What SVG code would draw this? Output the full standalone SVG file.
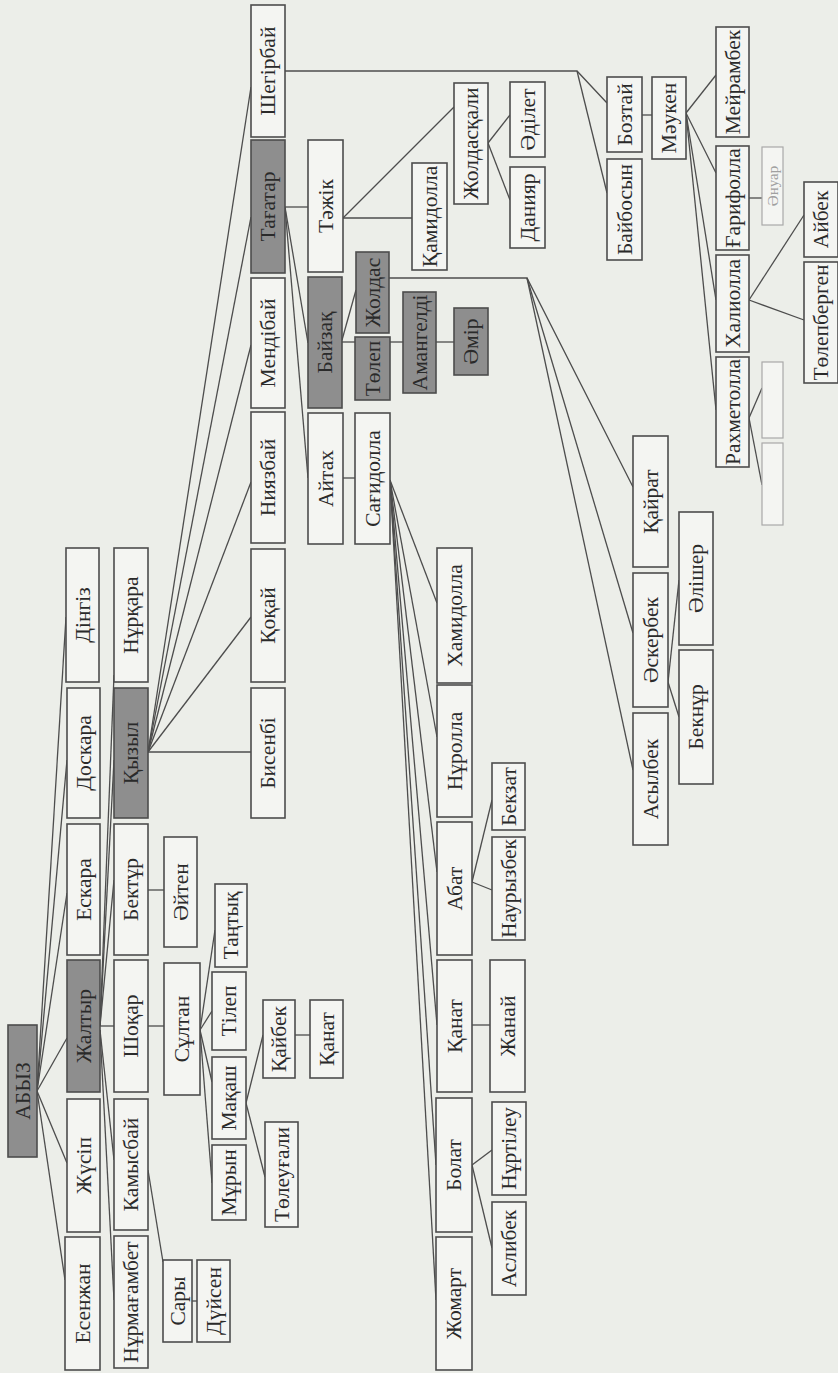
<svg xmlns="http://www.w3.org/2000/svg" width="838" height="1373" viewBox="0 0 838 1373">
<style>
.b{fill:#f4f5f2;stroke:#4d4d4d;stroke-width:1.6}
.g{fill:#8e8e8e;stroke:#4d4d4d;stroke-width:1.6}
.f{fill:#f4f5f2;stroke:#a8a8a8;stroke-width:1.2}
text{font-family:"Liberation Serif","DejaVu Serif",serif;font-size:21.5px;fill:#2a2a2a;text-anchor:middle;dominant-baseline:central}
text.ft{fill:#a0a0a0;font-size:15px}
#connectors line,#connectors polyline{stroke:#4d4d4d;stroke-width:1.3;fill:none}
</style>
<rect width="838" height="1373" fill="#eceee9"/>
<g id="connectors">
<line x1="37" y1="1091" x2="66" y2="617"/>
<line x1="37" y1="1091" x2="67" y2="760"/>
<line x1="37" y1="1091" x2="67" y2="893"/>
<line x1="37" y1="1091" x2="67" y2="1038"/>
<line x1="37" y1="1091" x2="67" y2="1163"/>
<line x1="37" y1="1091" x2="65" y2="1280"/>
<line x1="100" y1="1026" x2="114" y2="1026"/>
<line x1="100" y1="1030" x2="114" y2="1160"/>
<line x1="100" y1="1030" x2="114" y2="1300"/>
<line x1="100" y1="1026" x2="114" y2="880"/>
<line x1="100" y1="1026" x2="114" y2="760"/>
<line x1="100" y1="1026" x2="114" y2="675"/>
<line x1="148" y1="1026" x2="164" y2="1026"/>
<line x1="148" y1="890" x2="164" y2="890"/>
<line x1="148" y1="1170" x2="163" y2="1262"/>
<line x1="192" y1="1301" x2="197" y2="1301"/>
<line x1="200" y1="1030" x2="215" y2="930"/>
<line x1="200" y1="1030" x2="212" y2="1011"/>
<line x1="200" y1="1030" x2="212" y2="1082"/>
<line x1="200" y1="1030" x2="212" y2="1183"/>
<line x1="246" y1="1103" x2="263" y2="1035"/>
<line x1="246" y1="1103" x2="265" y2="1177"/>
<line x1="295" y1="1035" x2="310" y2="1035"/>
<line x1="148" y1="752" x2="251" y2="752"/>
<line x1="148" y1="752" x2="251" y2="617"/>
<line x1="148" y1="752" x2="251" y2="482"/>
<line x1="148" y1="752" x2="251" y2="345"/>
<line x1="148" y1="752" x2="251" y2="217"/>
<line x1="148" y1="752" x2="251" y2="87"/>
<line x1="285" y1="207" x2="308" y2="207"/>
<line x1="285" y1="207" x2="308" y2="343"/>
<line x1="285" y1="207" x2="308" y2="478"/>
<line x1="343" y1="218" x2="412" y2="218"/>
<line x1="343" y1="218" x2="454" y2="107"/>
<line x1="488" y1="143" x2="510" y2="115"/>
<line x1="488" y1="143" x2="510" y2="200"/>
<line x1="342" y1="340" x2="356" y2="290"/>
<line x1="342" y1="342" x2="355" y2="342"/>
<line x1="390" y1="342" x2="403" y2="342"/>
<line x1="436" y1="342" x2="454" y2="342"/>
<polyline points="389,278 527,278 633,487"/>
<line x1="527" y1="278" x2="633" y2="633"/>
<line x1="527" y1="278" x2="633" y2="770"/>
<line x1="668" y1="682" x2="679" y2="580"/>
<line x1="668" y1="682" x2="679" y2="717"/>
<line x1="343" y1="478" x2="355" y2="478"/>
<line x1="390" y1="480" x2="437" y2="603"/>
<line x1="390" y1="480" x2="437" y2="737"/>
<line x1="390" y1="480" x2="437" y2="872"/>
<line x1="390" y1="480" x2="437" y2="1025"/>
<line x1="390" y1="480" x2="436" y2="1165"/>
<line x1="390" y1="480" x2="436" y2="1300"/>
<line x1="472" y1="882" x2="492" y2="800"/>
<line x1="472" y1="882" x2="492" y2="890"/>
<line x1="472" y1="1025" x2="490" y2="1025"/>
<line x1="472" y1="1165" x2="492" y2="1150"/>
<line x1="472" y1="1165" x2="492" y2="1248"/>
<polyline points="285,71 577,71 607,103"/>
<line x1="577" y1="71" x2="607" y2="193"/>
<line x1="642" y1="115" x2="652" y2="115"/>
<line x1="686" y1="113" x2="716" y2="75"/>
<line x1="686" y1="113" x2="716" y2="173"/>
<line x1="686" y1="113" x2="716" y2="300"/>
<line x1="686" y1="113" x2="716" y2="410"/>
<line x1="749" y1="198" x2="762" y2="198"/>
<line x1="749" y1="300" x2="804" y2="215"/>
<line x1="749" y1="300" x2="804" y2="320"/>
<line x1="749" y1="418" x2="762" y2="388"/>
<line x1="749" y1="418" x2="762" y2="485"/>
</g>
<g id="n-abyz"><rect class="g" x="8" y="1025" width="29" height="132"/><text transform="translate(22.5 1091) rotate(-90)">АБЫЗ</text></g>
<g id="n-dingiz"><rect class="b" x="66" y="548" width="33" height="134"/><text transform="translate(82.5 615) rotate(-90)">Дінгіз</text></g>
<g id="n-doskara"><rect class="b" x="67" y="688" width="33" height="130"/><text transform="translate(83.5 753) rotate(-90)">Доскара</text></g>
<g id="n-eskara"><rect class="b" x="67" y="824" width="33" height="131"/><text transform="translate(83.5 889.5) rotate(-90)">Ескара</text></g>
<g id="n-zhaltyr"><rect class="g" x="67" y="960" width="33" height="132"/><text transform="translate(83.5 1026) rotate(-90)">Жалтыр</text></g>
<g id="n-zhusip"><rect class="b" x="67" y="1099" width="33" height="133"/><text transform="translate(83.5 1165.5) rotate(-90)">Жүсіп</text></g>
<g id="n-esenzhan"><rect class="b" x="65" y="1237" width="35" height="133"/><text transform="translate(82.5 1303.5) rotate(-90)">Есенжан</text></g>
<g id="n-nurkara"><rect class="b" x="114" y="548" width="34" height="134"/><text transform="translate(131 615) rotate(-90)">Нұрқара</text></g>
<g id="n-kyzyl"><rect class="g" x="114" y="688" width="34" height="130"/><text transform="translate(131 753) rotate(-90)">Қызыл</text></g>
<g id="n-bektur"><rect class="b" x="114" y="824" width="34" height="131"/><text transform="translate(131 889.5) rotate(-90)">Бектұр</text></g>
<g id="n-shokar"><rect class="b" x="114" y="960" width="34" height="132"/><text transform="translate(131 1026) rotate(-90)">Шоқар</text></g>
<g id="n-kamysbai"><rect class="b" x="114" y="1099" width="34" height="131"/><text transform="translate(131 1164.5) rotate(-90)">Камысбай</text></g>
<g id="n-nurmagambet"><rect class="b" x="114" y="1236" width="34" height="132"/><text transform="translate(131 1302) rotate(-90)">Нұрмағамбет</text></g>
<g id="n-aiten"><rect class="b" x="164" y="837" width="33" height="110"/><text transform="translate(180.5 892) rotate(-90)">Әйтен</text></g>
<g id="n-sultan"><rect class="b" x="164" y="963" width="36" height="132"/><text transform="translate(182 1029) rotate(-90)">Сұлтан</text></g>
<g id="n-sary"><rect class="b" x="163" y="1260" width="29" height="82"/><text transform="translate(177.5 1301) rotate(-90)">Сары</text></g>
<g id="n-duisen"><rect class="b" x="197" y="1260" width="33" height="82"/><text transform="translate(213.5 1301) rotate(-90)">Дүйсен</text></g>
<g id="n-tantyk"><rect class="b" x="215" y="884" width="32" height="83"/><text transform="translate(231 925.5) rotate(-90)">Таңтық</text></g>
<g id="n-tilep"><rect class="b" x="212" y="972" width="34" height="78"/><text transform="translate(229 1011) rotate(-90)">Тілеп</text></g>
<g id="n-makash"><rect class="b" x="212" y="1057" width="34" height="82"/><text transform="translate(229 1098) rotate(-90)">Мақаш</text></g>
<g id="n-muryn"><rect class="b" x="212" y="1145" width="34" height="75"/><text transform="translate(229 1182.5) rotate(-90)">Мұрын</text></g>
<g id="n-kaibek"><rect class="b" x="263" y="1000" width="32" height="78"/><text transform="translate(279 1039) rotate(-90)">Қайбек</text></g>
<g id="n-kanat1"><rect class="b" x="310" y="1000" width="33" height="78"/><text transform="translate(326.5 1039) rotate(-90)">Қанат</text></g>
<g id="n-toleugali"><rect class="b" x="265" y="1122" width="33" height="105"/><text transform="translate(281.5 1174.5) rotate(-90)">Төлеуғали</text></g>
<g id="n-shegirbai"><rect class="b" x="251" y="5" width="34" height="132"/><text transform="translate(268 71) rotate(-90)">Шегірбай</text></g>
<g id="n-tagatar"><rect class="g" x="251" y="140" width="34" height="133"/><text transform="translate(268 206.5) rotate(-90)">Тағатар</text></g>
<g id="n-mendibai"><rect class="b" x="251" y="278" width="34" height="130"/><text transform="translate(268 343) rotate(-90)">Мендібай</text></g>
<g id="n-niyazbai"><rect class="b" x="251" y="412" width="34" height="131"/><text transform="translate(268 477.5) rotate(-90)">Ниязбай</text></g>
<g id="n-kokai"><rect class="b" x="251" y="549" width="34" height="133"/><text transform="translate(268 615.5) rotate(-90)">Қоқай</text></g>
<g id="n-bisenbi"><rect class="b" x="251" y="688" width="34" height="130"/><text transform="translate(268 753) rotate(-90)">Бисенбі</text></g>
<g id="n-tazhik"><rect class="b" x="308" y="140" width="35" height="132"/><text transform="translate(325.5 206) rotate(-90)">Тәжік</text></g>
<g id="n-baizak"><rect class="g" x="308" y="277" width="34" height="131"/><text transform="translate(325 342.5) rotate(-90)">Байзақ</text></g>
<g id="n-aitah"><rect class="b" x="308" y="413" width="35" height="131"/><text transform="translate(325.5 478.5) rotate(-90)">Айтах</text></g>
<g id="n-zholdas"><rect class="g" x="356" y="252" width="33" height="81"/><text transform="translate(372.5 292.5) rotate(-90)">Жолдас</text></g>
<g id="n-tolep"><rect class="g" x="355" y="337" width="35" height="63"/><text transform="translate(372.5 368.5) rotate(-90)">Төлеп</text></g>
<g id="n-sagidolla"><rect class="b" x="355" y="413" width="35" height="131"/><text transform="translate(372.5 478.5) rotate(-90)">Сағидолла</text></g>
<g id="n-kamidolla"><rect class="b" x="412" y="163" width="35" height="107"/><text transform="translate(429.5 216.5) rotate(-90)">Қамидолла</text></g>
<g id="n-amangeldi"><rect class="g" x="403" y="292" width="33" height="101"/><text transform="translate(419.5 342.5) rotate(-90)">Амангелді</text></g>
<g id="n-zholdaskali"><rect class="b" x="454" y="83" width="34" height="121"/><text transform="translate(471 143.5) rotate(-90)">Жолдасқали</text></g>
<g id="n-amir"><rect class="g" x="454" y="308" width="34" height="67"/><text transform="translate(471 341.5) rotate(-90)">Әмір</text></g>
<g id="n-hamidolla"><rect class="b" x="437" y="548" width="35" height="135"/><text transform="translate(454.5 615.5) rotate(-90)">Хамидолла</text></g>
<g id="n-nurolla"><rect class="b" x="437" y="685" width="35" height="132"/><text transform="translate(454.5 751) rotate(-90)">Нұролла</text></g>
<g id="n-abat"><rect class="b" x="437" y="822" width="35" height="133"/><text transform="translate(454.5 888.5) rotate(-90)">Абат</text></g>
<g id="n-kanat2"><rect class="b" x="437" y="960" width="35" height="132"/><text transform="translate(454.5 1026) rotate(-90)">Қанат</text></g>
<g id="n-bolat"><rect class="b" x="436" y="1098" width="36" height="134"/><text transform="translate(454 1165) rotate(-90)">Болат</text></g>
<g id="n-zhomart"><rect class="b" x="436" y="1237" width="36" height="133"/><text transform="translate(454 1303.5) rotate(-90)">Жомарт</text></g>
<g id="n-adilet"><rect class="b" x="510" y="82" width="35" height="75"/><text transform="translate(527.5 119.5) rotate(-90)">Әділет</text></g>
<g id="n-daniyar"><rect class="b" x="510" y="167" width="35" height="81"/><text transform="translate(527.5 207.5) rotate(-90)">Данияр</text></g>
<g id="n-bekzat"><rect class="b" x="492" y="763" width="33" height="67"/><text transform="translate(508.5 796.5) rotate(-90)">Бекзат</text></g>
<g id="n-nauryzbek"><rect class="b" x="492" y="837" width="33" height="103"/><text transform="translate(508.5 888.5) rotate(-90)">Наурызбек</text></g>
<g id="n-zhanai"><rect class="b" x="490" y="960" width="35" height="132"/><text transform="translate(507.5 1026) rotate(-90)">Жанай</text></g>
<g id="n-nurtileu"><rect class="b" x="492" y="1102" width="34" height="93"/><text transform="translate(509 1148.5) rotate(-90)">Нұртілеу</text></g>
<g id="n-aslibek"><rect class="b" x="492" y="1202" width="34" height="93"/><text transform="translate(509 1248.5) rotate(-90)">Аслибек</text></g>
<g id="n-boztai"><rect class="b" x="607" y="77" width="35" height="75"/><text transform="translate(624.5 114.5) rotate(-90)">Бозтай</text></g>
<g id="n-baibosyn"><rect class="b" x="607" y="159" width="35" height="101"/><text transform="translate(624.5 209.5) rotate(-90)">Байбосын</text></g>
<g id="n-mauken"><rect class="b" x="652" y="77" width="34" height="82"/><text transform="translate(669 118) rotate(-90)">Мәукен</text></g>
<g id="n-kairat"><rect class="b" x="633" y="436" width="35" height="131"/><text transform="translate(650.5 501.5) rotate(-90)">Қайрат</text></g>
<g id="n-eskerbek"><rect class="b" x="633" y="573" width="35" height="134"/><text transform="translate(650.5 640) rotate(-90)">Әскербек</text></g>
<g id="n-asylbek"><rect class="b" x="633" y="713" width="35" height="132"/><text transform="translate(650.5 779) rotate(-90)">Асылбек</text></g>
<g id="n-alisher"><rect class="b" x="679" y="512" width="34" height="133"/><text transform="translate(696 578.5) rotate(-90)">Әлішер</text></g>
<g id="n-beknur"><rect class="b" x="679" y="650" width="34" height="134"/><text transform="translate(696 717) rotate(-90)">Бекнұр</text></g>
<g id="n-meirambek"><rect class="b" x="716" y="27" width="33" height="110"/><text transform="translate(732.5 82) rotate(-90)">Мейрамбек</text></g>
<g id="n-garifolla"><rect class="b" x="716" y="146" width="33" height="104"/><text transform="translate(732.5 198) rotate(-90)">Ғарифолла</text></g>
<g id="n-haliolla"><rect class="b" x="716" y="255" width="33" height="97"/><text transform="translate(732.5 303.5) rotate(-90)">Халиолла</text></g>
<g id="n-rahmetolla"><rect class="b" x="716" y="357" width="33" height="110"/><text transform="translate(732.5 412) rotate(-90)">Рахметолла</text></g>
<g id="n-anuar"><rect class="f" x="762" y="147" width="21" height="78"/><text class="ft" transform="translate(773 186) rotate(-90)">Әнуар</text></g>
<g id="n-faint1"><rect class="f" x="762" y="362" width="21" height="76"/></g>
<g id="n-faint2"><rect class="f" x="762" y="443" width="21" height="82"/></g>
<g id="n-aibek"><rect class="b" x="804" y="182" width="34" height="75"/><text transform="translate(821 219.5) rotate(-90)">Айбек</text></g>
<g id="n-tolepbergen"><rect class="b" x="804" y="262" width="34" height="121"/><text transform="translate(821 322.5) rotate(-90)">Төлепберген</text></g>
</svg>
